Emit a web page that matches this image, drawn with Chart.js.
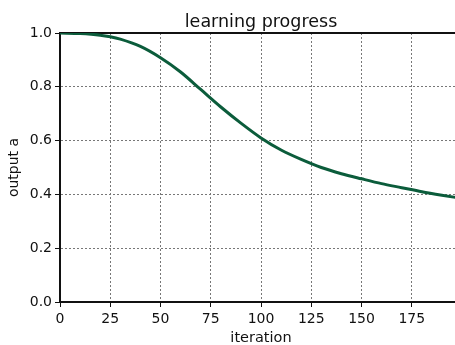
<!DOCTYPE html>
<html lang="en">
<head>
    <meta charset="UTF-8">
    <title>learning progress</title>
    <script src="https://cdn.jsdelivr.net/npm/chart.js"></script>
    <style>
        body {
            margin: 0;
            padding: 0;
            background: #ffffff;
            overflow: hidden;
        }
        .container {
            width: 472px;
            height: 345px;
        }
    </style>
</head>
<body>
    <div class="container">
        <canvas id="grafico"></canvas>
    </div>

    <script>
        // curve
        const iterations = [0, 10, 20, 25, 30, 40, 50, 60, 70, 80, 90, 100, 110, 120, 130, 140, 150, 160, 170, 180, 190, 200];
        const outputA = [1.000, 0.998, 0.992, 0.986, 0.977, 0.950, 0.908, 0.855, 0.790, 0.725, 0.665, 0.610, 0.565, 0.530, 0.500, 0.477, 0.458, 0.440, 0.425, 0.410, 0.397, 0.385];

        const xTicks = [0, 25, 50, 75, 100, 125, 150, 175];
        const yTicks = ["0.0", "0.2", "0.4", "0.6", "0.8", "1.0"];

        const fontName = "'DejaVu Sans', sans-serif";

        const ctx = document.getElementById("grafico").getContext("2d");
        new Chart(ctx, {
            type: "line",
            data: {
                datasets: [{
                    label: "output a",
                    data: iterations.map((x, i) => ({ x: x, y: outputA[i] })),
                    borderColor: "#0b5c3b",
                    borderWidth: 3,
                    pointRadius: 0,
                    fill: false,
                    cubicInterpolationMode: "monotone"
                }]
            },
            options: {
                responsive: true,
                maintainAspectRatio: false,
                animation: false,
                layout: { padding: { left: 0, right: 10, top: 0, bottom: 0 } },
                plugins: {
                    legend: { display: false },
                    tooltip: { enabled: false }
                },
                scales: {
                    x: {
                        type: "linear",
                        min: 0,
                        max: 200,
                        afterBuildTicks: scale => {
                            scale.ticks = xTicks.map(v => ({ value: v }));
                        },
                        afterFit: scale => { scale.height = 43; },
                        ticks: {
                            color: "#111",
                            padding: 4,
                            maxRotation: 0,
                            font: { family: fontName, size: 14 }
                        },
                        grid: {
                            color: "#777",
                            lineWidth: 1,
                            tickLength: 5,
                            tickColor: "#111",
                            tickBorderDash: [1, 0]
                        },
                        border: { color: "#111", width: 2, dash: [2, 2] },
                        title: {
                            display: true,
                            text: "iteration",
                            color: "#111",
                            font: { family: fontName, size: 14.5 },
                            padding: { top: 0, bottom: -2 }
                        }
                    },
                    // top axis only carries the title and the upper frame line
                    xTop: {
                        type: "linear",
                        position: "top",
                        min: 0,
                        max: 200,
                        afterFit: scale => { scale.height = 33; },
                        ticks: { display: false },
                        grid: { display: false },
                        border: { display: true, color: "#111", width: 2 },
                        title: {
                            display: true,
                            text: "learning progress",
                            color: "#111",
                            font: { family: fontName, size: 17.5 },
                            padding: { top: 12, bottom: 0 }
                        }
                    },
                    y: {
                        min: 0,
                        max: 1,
                        afterBuildTicks: scale => {
                            scale.ticks = yTicks.map(v => ({ value: parseFloat(v) }));
                        },
                        afterFit: scale => { scale.width = 60; },
                        ticks: {
                            color: "#111",
                            padding: 3,
                            font: { family: fontName, size: 14 },
                            callback: (value, i) => yTicks[i]
                        },
                        grid: {
                            color: "#777",
                            lineWidth: 1,
                            tickLength: 5,
                            tickColor: "#111",
                            tickBorderDash: [1, 0]
                        },
                        border: { color: "#111", width: 2, dash: [2, 2] },
                        title: {
                            display: true,
                            text: "output a",
                            color: "#111",
                            font: { family: fontName, size: 14 },
                            padding: { top: 6, bottom: 0 }
                        }
                    }
                }
            }
        });
    </script>
</body>
</html>
